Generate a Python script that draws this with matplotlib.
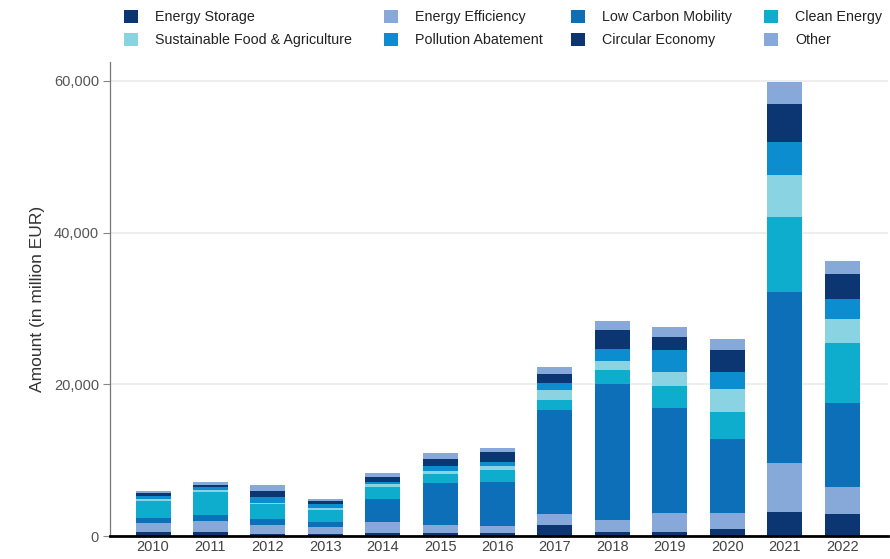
import matplotlib.pyplot as plt
from matplotlib.patches import Patch
from matplotlib.ticker import FuncFormatter

plt.rcParams["font.family"] = ["Liberation Sans", "DejaVu Sans"]

years = ["2010", "2011", "2012", "2013", "2014", "2015", "2016",
         "2017", "2018", "2019", "2020", "2021", "2022"]

# amounts in million EUR, stacked bottom to top
energy_storage = [480, 480, 220, 220, 350, 350, 350, 1450, 530, 530, 880, 3120, 2900]
energy_efficiency = [1280, 1500, 1280, 920, 1450, 1100, 970, 1450, 1590, 2550, 2200, 6500, 3610]
low_carbon_mobility = [660, 790, 790, 750, 3040, 5590, 5850, 13650, 17920, 13780, 9690, 22540, 11000]
clean_energy = [2250, 3080, 1890, 1540, 1670, 1190, 1590, 1410, 1890, 2860, 3520, 9950, 7920]
sustainable_food = [220, 220, 130, 310, 310, 400, 530, 1320, 1140, 1890, 3130, 5460, 3210]
pollution_abatement = [400, 350, 790, 440, 260, 620, 440, 920, 1590, 2860, 2250, 4400, 2640]
circular_economy = [350, 310, 840, 440, 750, 920, 1410, 1100, 2550, 1800, 2860, 4970, 3210]
other = [310, 440, 750, 310, 440, 840, 480, 920, 1100, 1280, 1450, 2950, 1760]

series = [
    ("Energy Storage", energy_storage, "#0b3671"),
    ("Energy Efficiency", energy_efficiency, "#86a9da"),
    ("Low Carbon Mobility", low_carbon_mobility, "#0d6fb8"),
    ("Clean Energy", clean_energy, "#0eadce"),
    ("Sustainable Food & Agriculture", sustainable_food, "#89d3e2"),
    ("Pollution Abatement", pollution_abatement, "#0c8dd0"),
    ("Circular Economy", circular_economy, "#0b3671"),
    ("Other", other, "#86a9da"),
]

fig = plt.figure(figsize=(8.9, 5.59), dpi=100)
ax = fig.add_axes([110 / 890, 23 / 559, 778 / 890, 474 / 559])

x = range(len(years))
bottom = [0] * len(years)
for name, vals, color in series:
    ax.bar(x, vals, width=0.61, bottom=bottom, color=color, edgecolor="none",
           zorder=3)
    bottom = [b + v for b, v in zip(bottom, vals)]

ax.set_xlim(-0.75, 12.8)
ax.set_ylim(0, 62500)
ax.set_yticks([0, 20000, 40000, 60000])
ax.yaxis.set_major_formatter(FuncFormatter(lambda v, p: f"{int(v):,}"))
ax.grid(axis="y", color="#ebebeb", lw=1.2, zorder=0)

ax.set_xticks(list(x))
ax.set_xticklabels(years)
ax.tick_params(axis="x", length=0, labelsize=10.5, labelcolor="#444444", pad=3)
ax.tick_params(axis="y", length=5, width=0.8, color="#888888",
               labelsize=10.5, labelcolor="#555555", pad=3)

for side in ["top", "right"]:
    ax.spines[side].set_visible(False)
ax.spines["left"].set_color("#777777")
ax.spines["left"].set_linewidth(0.9)
ax.spines["bottom"].set_color("black")
ax.spines["bottom"].set_linewidth(2)
ax.spines["bottom"].set_zorder(4)

ax.set_ylabel("Amount (in million EUR)", fontsize=12.5, color="#333333",
              labelpad=6)

# legend: four columns, two rows each, placed one column at a time
handles = [Patch(facecolor=c, edgecolor="none") for _, _, c in series]
labels = [n for n, _, _ in series]
col_left = [124, 384, 571, 764]
for col, left in enumerate(col_left):
    idx = [col, col + 4]
    fig.legend([handles[i] for i in idx], [labels[i] for i in idx],
               loc="upper left", bbox_to_anchor=(left / 890, 1 - 10 / 559),
               frameon=False, fontsize=10.3, handlelength=1.0,
               handleheight=1.0, handletextpad=1.2, labelspacing=0.6,
               borderpad=0, borderaxespad=0, labelcolor="#222222")

fig.savefig("out.png", dpi=100, facecolor="white")
